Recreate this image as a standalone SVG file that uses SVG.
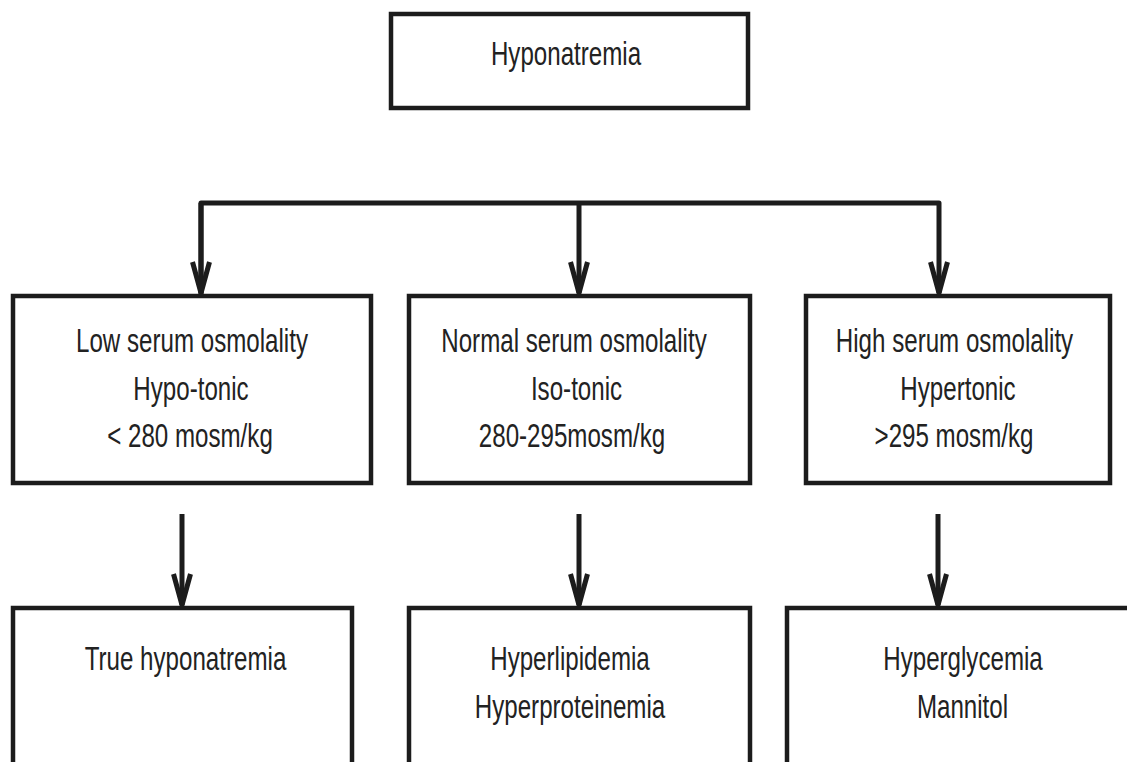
<svg xmlns="http://www.w3.org/2000/svg" width="1127" height="762" viewBox="0 0 1127 762">
<style>
.box{fill:#ffffff;stroke:#1c1c1c;stroke-width:4.5}
.t{font-family:"Liberation Sans",Arial,sans-serif;font-size:34px;fill:#222222;text-anchor:middle}
.wire{fill:none;stroke:#1c1c1c;stroke-width:5;stroke-linejoin:round}
</style>
<defs>
<marker id="ah" markerUnits="userSpaceOnUse" orient="auto" refX="0" refY="0" markerWidth="40" markerHeight="30" viewBox="-36 -15 40 30" overflow="visible">
<path d="M-31,-8.5 L0,0 L-31,8.5" fill="none" stroke="#1c1c1c" stroke-width="5" stroke-linejoin="round"/>
</marker>
</defs>
<rect width="1127" height="762" fill="#ffffff"/>
<g id="connectors">
<path class="wire" d="M201,296 V203 H939 V293" marker-end="url(#ah)"/>
<path class="wire" d="M201,203 V293" marker-end="url(#ah)"/>
<path class="wire" d="M579,203 V293" marker-end="url(#ah)"/>
<path class="wire" d="M182,514 V605" marker-end="url(#ah)"/>
<path class="wire" d="M579,514 V605" marker-end="url(#ah)"/>
<path class="wire" d="M938,514 V605" marker-end="url(#ah)"/>
</g>
<g id="hyponatremia">
<rect class="box" x="391" y="14" width="357" height="94"/>
<text class="t" transform="translate(566 65) scale(0.71 1)">Hyponatremia</text>
</g>
<g id="low-osm">
<rect class="box" x="13" y="296" width="358" height="187"/>
<text class="t" transform="translate(192 352) scale(0.71 1)">Low serum osmolality</text>
<text class="t" transform="translate(191 400) scale(0.71 1)">Hypo-tonic</text>
<text class="t" transform="translate(190 447) scale(0.71 1)">&lt; 280 mosm/kg</text>
</g>
<g id="normal-osm">
<rect class="box" x="409" y="296" width="341" height="187"/>
<text class="t" transform="translate(574 352) scale(0.71 1)">Normal serum osmolality</text>
<text class="t" transform="translate(576.5 400) scale(0.71 1)">Iso-tonic</text>
<text class="t" transform="translate(572 447) scale(0.71 1)">280-295mosm/kg</text>
</g>
<g id="high-osm">
<rect class="box" x="806" y="296" width="304" height="187"/>
<text class="t" transform="translate(954.5 352) scale(0.71 1)">High serum osmolality</text>
<text class="t" transform="translate(958 400) scale(0.71 1)">Hypertonic</text>
<text class="t" transform="translate(954 447) scale(0.71 1)">&gt;295 mosm/kg</text>
</g>
<g id="true-hypo">
<rect class="box" x="13" y="608" width="339" height="200"/>
<text class="t" transform="translate(185.5 670) scale(0.71 1)">True hyponatremia</text>
</g>
<g id="pseudo-iso">
<rect class="box" x="409" y="608" width="341" height="200"/>
<text class="t" transform="translate(570 670) scale(0.71 1)">Hyperlipidemia</text>
<text class="t" transform="translate(570 718) scale(0.71 1)">Hyperproteinemia</text>
</g>
<g id="hypertonic-causes">
<rect class="box" x="787" y="608" width="360" height="200"/>
<text class="t" transform="translate(963 670) scale(0.71 1)">Hyperglycemia</text>
<text class="t" transform="translate(962.5 718) scale(0.71 1)">Mannitol</text>
</g>
</svg>
